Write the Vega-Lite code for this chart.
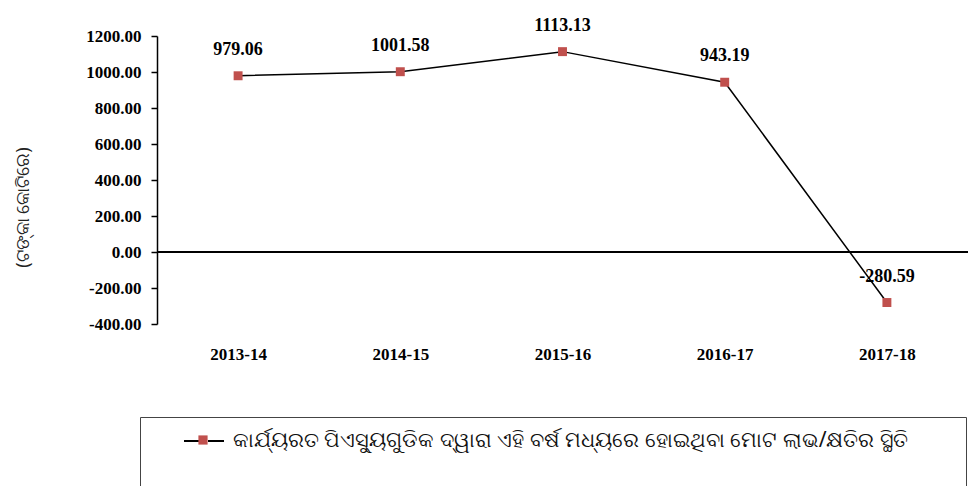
{
  "$schema": "https://vega.github.io/schema/vega-lite/v6.json",
  "width": 811,
  "height": 288,
  "autosize": {"type": "none"},
  "padding": {"left": 157, "top": 36, "right": 2, "bottom": 162},
  "background": "white",
  "config": {"view": {"stroke": null}},
  "data": {
    "values": [
      {"year": "2013-14", "value": 979.06, "series": "କାର୍ଯ୍ୟରତ ପିଏସ୍ୟୁଗୁଡିକ ଦ୍ୱାରା ଏହି ବର୍ଷ ମଧ୍ୟରେ ହୋଇଥିବା ମୋଟ ଲାଭ/କ୍ଷତିର ସ୍ଥିତି", "marker": "m"},
      {"year": "2014-15", "value": 1001.58, "series": "କାର୍ଯ୍ୟରତ ପିଏସ୍ୟୁଗୁଡିକ ଦ୍ୱାରା ଏହି ବର୍ଷ ମଧ୍ୟରେ ହୋଇଥିବା ମୋଟ ଲାଭ/କ୍ଷତିର ସ୍ଥିତି", "marker": "m"},
      {"year": "2015-16", "value": 1113.13, "series": "କାର୍ଯ୍ୟରତ ପିଏସ୍ୟୁଗୁଡିକ ଦ୍ୱାରା ଏହି ବର୍ଷ ମଧ୍ୟରେ ହୋଇଥିବା ମୋଟ ଲାଭ/କ୍ଷତିର ସ୍ଥିତି", "marker": "m"},
      {"year": "2016-17", "value": 943.19, "series": "କାର୍ଯ୍ୟରତ ପିଏସ୍ୟୁଗୁଡିକ ଦ୍ୱାରା ଏହି ବର୍ଷ ମଧ୍ୟରେ ହୋଇଥିବା ମୋଟ ଲାଭ/କ୍ଷତିର ସ୍ଥିତି", "marker": "m"},
      {"year": "2017-18", "value": -280.59, "series": "କାର୍ଯ୍ୟରତ ପିଏସ୍ୟୁଗୁଡିକ ଦ୍ୱାରା ଏହି ବର୍ଷ ମଧ୍ୟରେ ହୋଇଥିବା ମୋଟ ଲାଭ/କ୍ଷତିର ସ୍ଥିତି", "marker": "m"}
    ]
  },
  "encoding": {
    "x": {
      "field": "year",
      "type": "ordinal",
      "scale": {"type": "point", "padding": 0.5},
      "axis": {
        "title": null,
        "orient": "bottom",
        "domain": false,
        "ticks": false,
        "labelAngle": 0,
        "labelPadding": 22,
        "labelFont": "Liberation Serif",
        "labelFontWeight": "bold",
        "labelFontSize": 17,
        "labelColor": "#000000"
      }
    },
    "y": {
      "field": "value",
      "type": "quantitative",
      "scale": {"domain": [-400, 1200], "nice": false, "zero": false},
      "axis": {
        "title": "(ଟଙ୍କା କୋଟିରେ)",
        "titleFont": "Noto Sans",
        "titleFontSize": 18,
        "titleFontWeight": "normal",
        "titleColor": "#222222",
        "titleX": -134,
        "titleY": 171,
        "titleAngle": -90,
        "titleAlign": "center",
        "titleBaseline": "middle",
        "values": [-400, -200, 0, 200, 400, 600, 800, 1000, 1200],
        "format": ".2f",
        "labelExpr": "replace(datum.label, '−', '-')",
        "grid": false,
        "domainColor": "#000000",
        "domainWidth": 1.5,
        "tickColor": "#000000",
        "tickWidth": 1.5,
        "tickSize": 6,
        "labelPadding": 10,
        "labelFont": "Liberation Serif",
        "labelFontWeight": "bold",
        "labelFontSize": 17,
        "labelColor": "#000000"
      }
    }
  },
  "layer": [
    {
      "mark": {"type": "rule", "color": "#000000", "strokeWidth": 2},
      "encoding": {"y": {"datum": 0}, "x": {}}
    },
    {
      "mark": {"type": "line", "strokeWidth": 1.5},
      "encoding": {
        "stroke": {
          "field": "series",
          "type": "nominal",
          "scale": {"range": ["#000000"]},
          "legend": {
            "orient": "none",
            "legendX": -17,
            "legendY": 381,
            "title": "\u00a0",
            "titleFont": "Liberation Serif",
            "titleOrient": "right",
            "titleFontSize": 110,
            "titleLimit": 3000,
            "titlePadding": 55,
            "padding": 3,
            "strokeColor": "#444444",
            "symbolType": "M-1,0H-0.2M0.2,0H1",
            "symbolSize": 1600,
            "symbolStrokeWidth": 2,
            "symbolStrokeColor": "#000000",
            "symbolOffset": 40,
            "labelOffset": 8,
            "labelFont": "Noto Sans",
            "labelFontSize": 21,
            "labelColor": "#111111",
            "labelLimit": 900
          }
        }
      }
    },
    {
      "mark": {"type": "point", "shape": "square", "filled": true, "size": 80, "opacity": 1},
      "encoding": {
        "fill": {
          "field": "marker",
          "type": "nominal",
          "scale": {"range": ["#C0504D"]},
          "legend": {
            "orient": "none",
            "legendX": -17,
            "legendY": 381,
            "title": null,
            "padding": 3,
            "symbolType": "M-0.23,-0.23H0.23V0.23H-0.23Z",
            "symbolSize": 1600,
            "symbolStrokeWidth": 0,
            "symbolOpacity": 1,
            "symbolOffset": 40,
            "labelExpr": "''",
            "labelFontSize": 21
          }
        }
      }
    },
    {
      "mark": {"type": "text", "font": "Liberation Serif", "fontWeight": "bold", "fontSize": 18, "dy": -26, "color": "#000000"},
      "encoding": {
        "text": {"field": "value", "type": "nominal"}
      }
    }
  ]
}
